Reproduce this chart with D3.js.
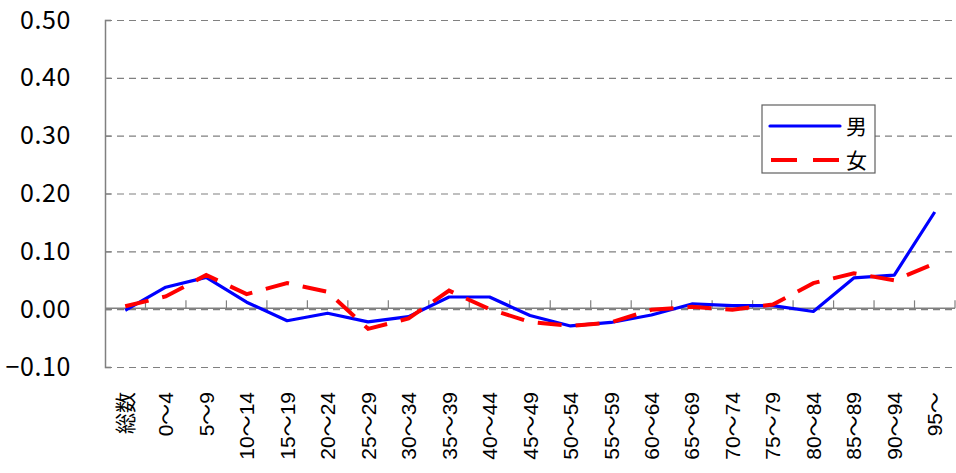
<!DOCTYPE html>
<html>
<head>
<meta charset="utf-8">
<script src="https://cdn.jsdelivr.net/npm/d3@7"></script>
<style>
  body{margin:0;background:#fff;}
  svg{display:block;}
</style>
</head>
<body>
<div id="chart"></div>
<script>
    // data
    var categories = ["総数","0～4","5～9","10～14","15～19","20～24","25～29","30～34","35～39","40～44","45～49",
                      "50～54","55～59","60～64","65～69","70～74","75～79","80～84","85～89","90～94","95～"];
    var male   = [-0.002, 0.038, 0.055, 0.012, -0.020, -0.007, -0.022, -0.013, 0.021, 0.021, -0.011,
                  -0.029, -0.023, -0.010, 0.009, 0.006, 0.006, -0.004, 0.054, 0.059, 0.168];
    var female = [0.005, 0.022, 0.059, 0.026, 0.045, 0.030, -0.034, -0.016, 0.032, 0.000, -0.022,
                  -0.029, -0.023, -0.001, 0.004, -0.001, 0.008, 0.045, 0.062, 0.050, 0.079];
    var yTicks = [-0.10, 0.00, 0.10, 0.20, 0.30, 0.40, 0.50];
    var seriesNames = ["男","女"];

    var WIDTH = 956, HEIGHT = 473;
    var LEFT = 105, RIGHT = 955, TOP = 20, BOTTOM = 367;
    var GRID = "#808080";

    var svg = d3.select("#chart").append("svg")
        .attr("width", WIDTH)
        .attr("height", HEIGHT);

    var xScale = d3.scaleBand().domain(categories).range([LEFT, RIGHT]);
    var yScale = d3.scaleLinear().domain([-0.1, 0.5]).range([BOTTOM, TOP]);
    var xMid = function(d){return xScale(d) + xScale.bandwidth()/2};

    // dashed grid
    svg.append("g").selectAll("line")
        .data(yTicks)
        .enter().append("line")
        .attr("x1", LEFT).attr("x2", RIGHT)
        .attr("y1", function(d){return yScale(d) + 0.5})
        .attr("y2", function(d){return yScale(d) + 0.5})
        .attr("stroke", GRID)
        .attr("stroke-width", 1.2)
        .attr("stroke-dasharray", "7,5");

    // y axis
    var yAxis = d3.axisLeft(yScale)
        .tickValues(yTicks)
        .tickSize(-6)
        .tickPadding(34)
        .tickFormat(d3.format(".2f"));
    var gy = svg.append("g")
        .attr("transform", "translate(" + LEFT + ",0)")
        .call(yAxis);
    gy.select(".domain").attr("stroke", GRID).attr("stroke-width", 1.5);
    gy.selectAll(".tick line").attr("stroke", GRID).attr("stroke-width", 1.2);
    gy.selectAll("text")
        .style("font-family", "'Noto Sans CJK JP', sans-serif")
        .style("font-size", "25px")
        .style("letter-spacing", "0.6px")
        .attr("fill", "#000");

    // category axis sitting at 0
    var y0 = yScale(0) - 0.8;
    svg.append("line")
        .attr("x1", LEFT).attr("x2", RIGHT)
        .attr("y1", y0).attr("y2", y0)
        .attr("stroke", GRID).attr("stroke-width", 1.5);
    svg.append("g").selectAll("line")
        .data(categories.slice(1).concat(["end"]))
        .enter().append("line")
        .attr("x1", function(d,i){return LEFT + (i+1)*xScale.bandwidth()})
        .attr("x2", function(d,i){return LEFT + (i+1)*xScale.bandwidth()})
        .attr("y1", y0).attr("y2", y0 - 8)
        .attr("stroke", GRID).attr("stroke-width", 1.2);

    svg.append("g").selectAll("text")
        .data(categories)
        .enter().append("text")
        .attr("transform", function(d){return "translate(" + xMid(d) + ",392) rotate(-90)"})
        .attr("text-anchor", "end")
        .attr("dy", "0.36em")
        .style("font-family", "'Liberation Sans', 'Noto Sans CJK JP', sans-serif")
        .style("font-size", "21px")
        .text(function(d){return d});

    // series
    var line = d3.line()
        .x(function(d,i){return xMid(categories[i])})
        .y(function(d){return yScale(d)});

    svg.append("path")
        .datum(male)
        .attr("d", line)
        .attr("fill", "none")
        .attr("stroke", "#0000ff")
        .attr("stroke-width", 3.2)
        .attr("stroke-linejoin", "round");

    svg.append("path")
        .datum(female)
        .attr("d", line)
        .attr("fill", "none")
        .attr("stroke", "#ff0000")
        .attr("stroke-width", 4)
        .attr("stroke-dasharray", "24,14");

    // legend
    var legend = svg.append("g").attr("transform", "translate(762,105)");
    legend.append("rect")
        .attr("width", 113).attr("height", 68)
        .attr("fill", "#fff")
        .attr("stroke", "#606060").attr("stroke-width", 1.2);
    legend.append("line")
        .attr("x1", 8).attr("x2", 78).attr("y1", 21).attr("y2", 21)
        .attr("stroke", "#0000ff").attr("stroke-width", 3.2).attr("stroke-linecap", "round");
    legend.append("line")
        .attr("x1", 9).attr("x2", 77).attr("y1", 55).attr("y2", 55)
        .attr("stroke", "#ff0000").attr("stroke-width", 4).attr("stroke-dasharray", "26,16");
    legend.selectAll("text")
        .data(seriesNames)
        .enter().append("text")
        .attr("x", 84)
        .attr("y", function(d,i){return 21 + i*34})
        .attr("dy", "0.36em")
        .style("font-family", "'Noto Sans CJK JP', sans-serif")
        .style("font-size", "21px")
        .text(function(d){return d});
</script>
</body>
</html>
